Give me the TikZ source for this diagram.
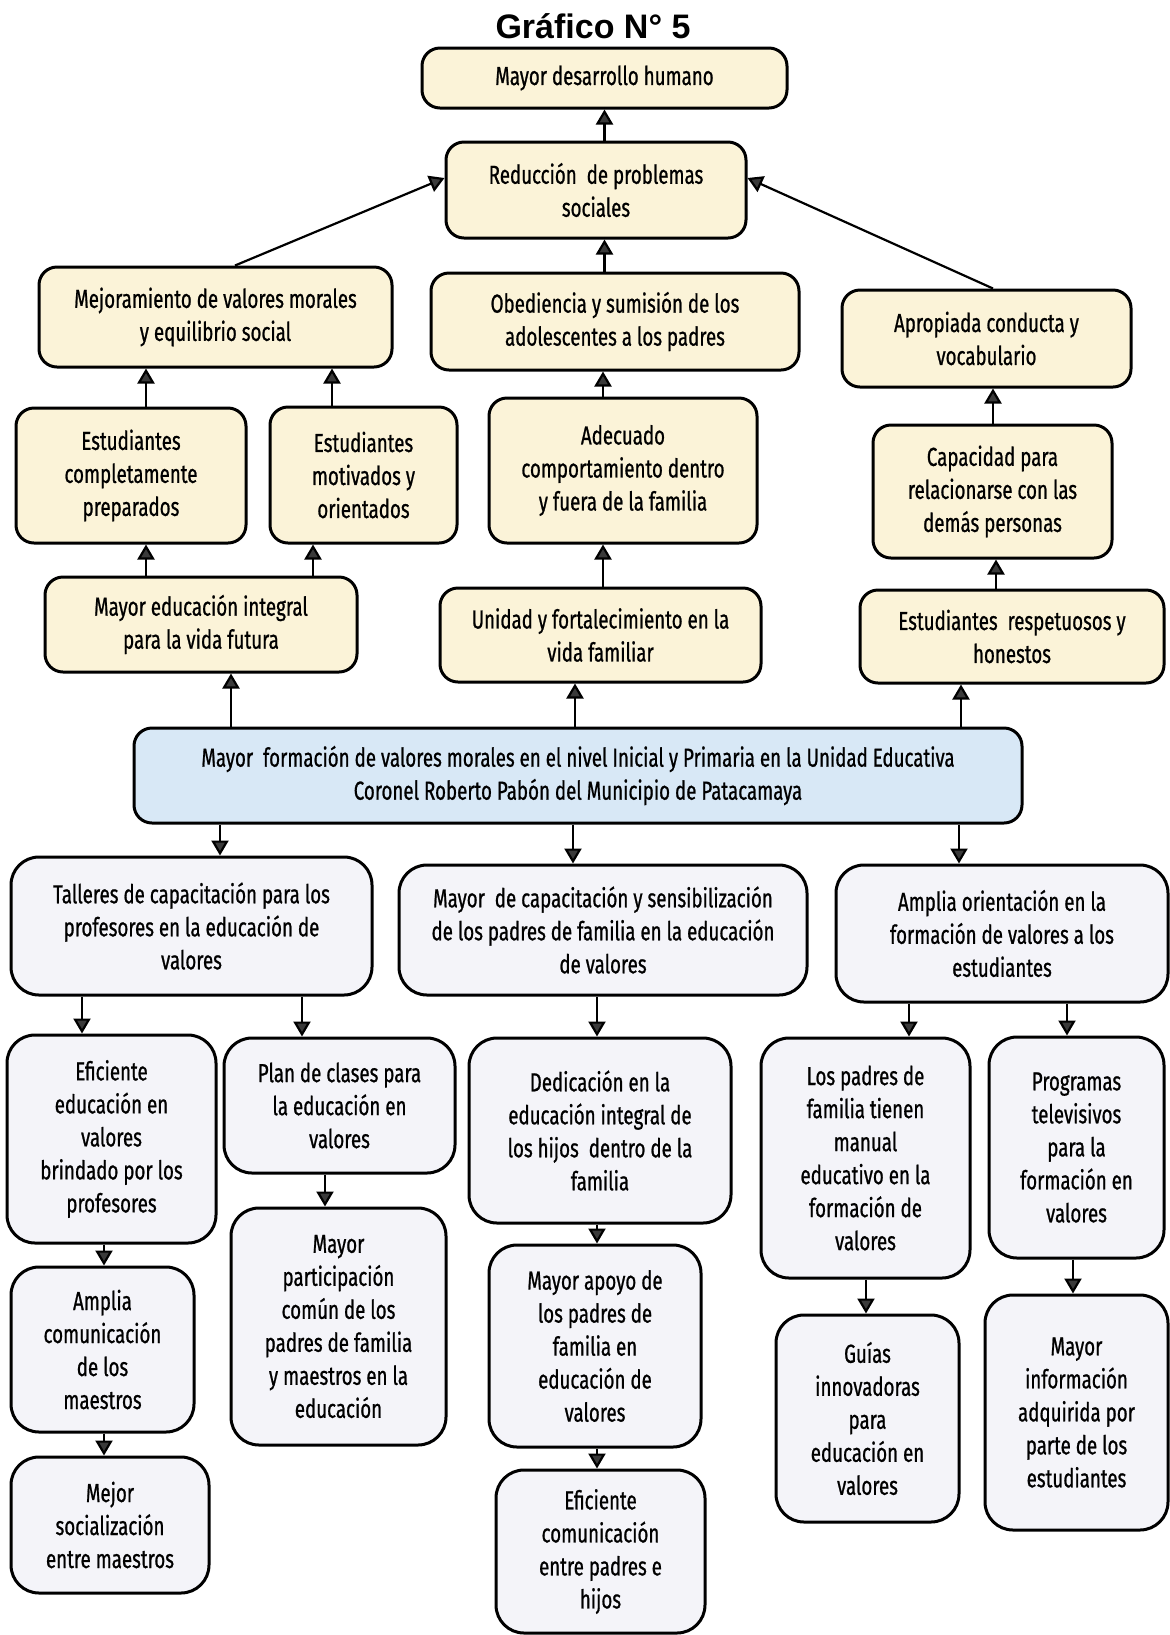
\documentclass[tikz,border=0pt]{standalone}
\usepackage{fontspec}
\setmainfont{Liberation Sans}
\newfontfamily\boxfont[FakeStretch=0.72,FakeBold=0.8]{Fira Sans}
\usetikzlibrary{arrows.meta}
\definecolor{crema}{HTML}{FBF3D8}
\definecolor{celeste}{HTML}{D8E8F6}
\definecolor{lila}{HTML}{F4F4F9}
\definecolor{flecha}{HTML}{3A3A3A}
\tikzset{
  caja/.style={draw=black, line width=1.5pt, rounded corners=9pt, align=center, inner sep=2pt,
    font=\boxfont\fontsize{13}{16.5}\selectfont},
  ycaja/.style={caja, fill=crema},
  bcaja/.style={caja, fill=celeste},
  lcaja/.style={caja, fill=lila, rounded corners=14pt},
  sz/.style 2 args={minimum width=#1*0.5pt, minimum height=#2*0.5pt},
  flec/.style={draw=black, line width=1.1pt, -{Triangle[width=8.5pt,length=7.5pt,fill=flecha]}}
}
\begin{document}
\begin{tikzpicture}[x=0.5pt, y=-0.5pt]
\useasboundingbox (0,0) rectangle (1170,1635);
% Titulo
\node[font=\bfseries\fontsize{17}{20}\selectfont] (titulo) at (593,26) {Gráfico N° 5};
% Fines
\node[ycaja, sz={365}{60}] (des) at (604.5,78) {Mayor desarrollo humano};
\node[ycaja, sz={300}{96}] (red) at (596,190) {Reducción\ \ de problemas\\sociales};
\node[ycaja, sz={353}{100}] (mej) at (215.5,317) {Mejoramiento de valores morales\\y equilibrio social};
\node[ycaja, sz={368}{97}] (obe) at (615,321.5) {Obediencia y sumisión de los\\adolescentes a los padres};
\node[ycaja, sz={289}{97}] (apr) at (986.5,338.5) {Apropiada conducta y\\vocabulario};
\node[ycaja, sz={230}{135}] (comp) at (131,475.5) {Estudiantes\\completamente\\preparados};
\node[ycaja, sz={187}{136}] (mot) at (363.5,475) {Estudiantes\\motivados y\\orientados};
\node[ycaja, sz={268}{145}] (ade) at (623,470.5) {Adecuado\\comportamiento dentro\\y fuera de la familia};
\node[ycaja, sz={239}{133}] (cap) at (992.5,491.5) {Capacidad para\\relacionarse con las\\demás personas};
\node[ycaja, sz={312}{95}] (int) at (201,624.5) {Mayor educación integral\\para la vida futura};
\node[ycaja, sz={321}{94}] (uni) at (600.5,635) {Unidad y fortalecimiento en la\\vida familiar};
\node[ycaja, sz={304}{93}] (res) at (1012,636.5) {Estudiantes\ \ respetuosos y\\honestos};
% Problema central
\node[bcaja, sz={888}{95}] (prob) at (578,775.5) {Mayor\ \ formación de valores morales en el nivel Inicial y Primaria en la Unidad Educativa\\Coronel Roberto Pabón del Municipio de Patacamaya};
% Medios
\node[lcaja, sz={361}{138}] (tal) at (191.5,926) {Talleres de capacitación para los\\profesores en la educación de\\valores};
\node[lcaja, sz={408}{130}] (capa) at (603,930) {Mayor\ \ de capacitación y sensibilización\\de los padres de familia en la educación\\de valores};
\node[lcaja, sz={332}{137}] (amp) at (1002,933.5) {Amplia orientación en la\\formación de valores a los\\estudiantes};
\node[lcaja, sz={209}{208}] (efi) at (111.5,1139) {Eficiente\\educación en\\valores\\brindado por los\\profesores};
\node[lcaja, sz={231}{135}] (plan) at (339.5,1105.5) {Plan de clases para\\la educación en\\valores};
\node[lcaja, sz={262}{185}] (ded) at (600,1130.5) {Dedicación en la\\educación integral de\\los hijos\ \ dentro de la\\familia};
\node[lcaja, sz={209}{240}] (pad) at (865.5,1158) {Los padres de\\familia tienen\\manual\\educativo en la\\formación de\\valores};
\node[lcaja, sz={175}{221}] (pro) at (1076.5,1147.5) {Programas\\televisivos\\para la\\formación en\\valores};
\node[lcaja, sz={183}{165}] (acom) at (102.5,1349.5) {Amplia\\comunicación\\de los\\maestros};
\node[lcaja, sz={198}{136}] (mejs) at (110,1525) {Mejor\\socialización\\entre maestros};
\node[lcaja, sz={215}{237}] (par) at (338.5,1326.5) {Mayor\\participación\\común de los\\padres de familia\\y maestros en la\\educación};
\node[lcaja, sz={212}{202}] (apo) at (595,1346) {Mayor apoyo de\\los padres de\\familia en\\educación de\\valores};
\node[lcaja, sz={209}{163}] (ecom) at (600.5,1551.5) {Eficiente\\comunicación\\entre padres e\\hijos};
\node[lcaja, sz={183}{207}] (gui) at (867.5,1418.5) {Guías\\innovadoras\\para\\educación en\\valores};
\node[lcaja, sz={183}{235}] (inf) at (1076.5,1412.5) {Mayor\\información\\adquirida por\\parte de los\\estudiantes};
% Flechas hacia arriba
\draw[flec] (red.north -| des) -- (des.south);
\draw[flec] (obe.north -| des) -- (red.south -| des);
\draw[flec] (mej.north -| 235,0) -- ([yshift=6pt]red.west);
\draw[flec] (apr.north -| 993,0) -- ([yshift=6pt]red.east);
\draw[flec] (comp.north -| 146,0) -- (mej.south -| 146,0);
\draw[flec] (mot.north -| 332,0) -- (mej.south -| 332,0);
\draw[flec] (int.north -| 146,0) -- (comp.south -| 146,0);
\draw[flec] (int.north -| 313,0) -- (mot.south -| 313,0);
\draw[flec] (ade.north -| 603,0) -- (obe.south -| 603,0);
\draw[flec] (uni.north -| 603,0) -- (ade.south -| 603,0);
\draw[flec] (cap.north -| 993,0) -- (apr.south -| 993,0);
\draw[flec] (res.north -| 996,0) -- (cap.south -| 996,0);
\draw[flec] (prob.north -| 231,0) -- (int.south -| 231,0);
\draw[flec] (prob.north -| 575,0) -- (uni.south -| 575,0);
\draw[flec] (prob.north -| 961,0) -- (res.south -| 961,0);
% Flechas hacia abajo
\draw[flec] (prob.south -| 220,0) -- (tal.north -| 220,0);
\draw[flec] (prob.south -| 573,0) -- (capa.north -| 573,0);
\draw[flec] (prob.south -| 959,0) -- (amp.north -| 959,0);
\draw[flec] (tal.south -| 82,0) -- (efi.north -| 82,0);
\draw[flec] (tal.south -| 302,0) -- (plan.north -| 302,0);
\draw[flec] (capa.south -| 597,0) -- (ded.north -| 597,0);
\draw[flec] (amp.south -| 909,0) -- (pad.north -| 909,0);
\draw[flec] (amp.south -| 1067,0) -- (pro.north -| 1067,0);
\draw[flec] (efi.south -| 104,0) -- (acom.north -| 104,0);
\draw[flec] (acom.south -| 104,0) -- (mejs.north -| 104,0);
\draw[flec] (plan.south -| 325,0) -- (par.north -| 325,0);
\draw[flec] (ded.south -| 597,0) -- (apo.north -| 597,0);
\draw[flec] (apo.south -| 597,0) -- (ecom.north -| 597,0);
\draw[flec] (pad.south -| 866,0) -- (gui.north -| 866,0);
\draw[flec] (pro.south -| 1073,0) -- (inf.north -| 1073,0);
\end{tikzpicture}
\end{document}
